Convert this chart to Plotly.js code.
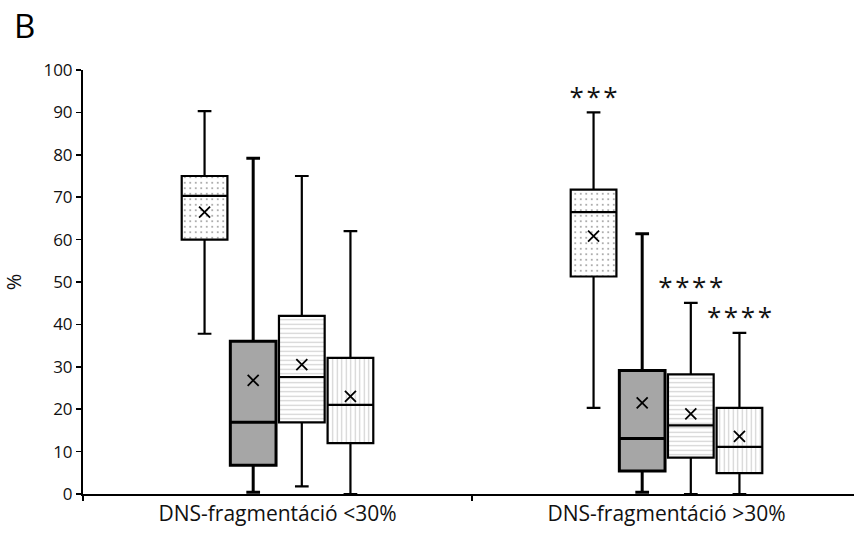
<!DOCTYPE html>
<html>
<head>
<meta charset="utf-8">
<script src="https://cdn.plot.ly/plotly-3.0.1.min.js"></script>
<style>html,body{margin:0;padding:0;background:#fff;}</style>
</head>
<body>
<div id="chart" style="width:854px;height:533px;"></div>
<script>
// Categories (x-axis)
const categories = ['DNS-fragmentáció <30%', 'DNS-fragmentáció >30%'];

// Series 1 (dotted)
const s1_low = [37.8, 20.3];
const s1_q1 = [60, 51.3];
const s1_med = [70.3, 66.5];
const s1_q3 = [75, 71.8];
const s1_high = [90.3, 90];
const s1_mean = [66.5, 60.8];
const s1_sig = ['', '***'];

// Series 2 (grey)
const s2_low = [0.4, 0.4];
const s2_q1 = [6.8, 5.4];
const s2_med = [16.9, 13.1];
const s2_q3 = [36, 29.1];
const s2_high = [79.2, 61.4];
const s2_mean = [26.8, 21.5];
const s2_sig = ['', ''];

// Series 3 (horizontal lines)
const s3_low = [1.8, 0];
const s3_q1 = [16.9, 8.6];
const s3_med = [27.6, 16.2];
const s3_q3 = [42, 28.2];
const s3_high = [75, 45.1];
const s3_mean = [30.5, 18.9];
const s3_sig = ['', '****'];

// Series 4 (vertical lines)
const s4_low = [0, 0];
const s4_q1 = [12, 4.9];
const s4_med = [21, 11.1];
const s4_q3 = [32.1, 20.3];
const s4_high = [62, 38];
const s4_mean = [23, 13.6];
const s4_sig = ['', '****'];

const series = [
  {name: 'A', low: s1_low, q1: s1_q1, med: s1_med, q3: s1_q3, high: s1_high, mean: s1_mean, sig: s1_sig,
   bg: '#ffffff', shape: '.', fg: '#333333', size: 5.5, sol: 0.1, lw: 2.2},
  {name: 'B', low: s2_low, q1: s2_q1, med: s2_med, q3: s2_q3, high: s2_high, mean: s2_mean, sig: s2_sig,
   bg: '#a6a6a6', shape: '', fg: '#a6a6a6', size: 5, sol: 0.2, lw: 3},
  {name: 'C', low: s3_low, q1: s3_q1, med: s3_med, q3: s3_q3, high: s3_high, mean: s3_mean, sig: s3_sig,
   bg: '#ffffff', shape: '-', fg: '#a0a0a0', size: 4.5, sol: 0.25, lw: 2.2},
  {name: 'D', low: s4_low, q1: s4_q1, med: s4_med, q3: s4_q3, high: s4_high, mean: s4_mean, sig: s4_sig,
   bg: '#ffffff', shape: '|', fg: '#a0a0a0', size: 4.5, sol: 0.25, lw: 2.2}
];

const traces = [];
// Patterned fills (bars spanning q1..q3)
series.forEach((s, i) => {
  traces.push({
    type: 'bar', x: categories, base: s.q1, y: s.q3.map((v, k) => v - s.q1[k]),
    offsetgroup: String(i), name: s.name, showlegend: false, hoverinfo: 'skip',
    marker: {color: s.bg, line: {width: 0},
      pattern: {shape: s.shape, bgcolor: s.bg, fgcolor: s.fg, size: s.size, solidity: s.sol, fillmode: 'overlay'}}
  });
});
// Box outlines, medians, whiskers
series.forEach((s, i) => {
  traces.push({
    type: 'box', x: categories, q1: s.q1, median: s.med, q3: s.q3,
    lowerfence: s.low, upperfence: s.high, offsetgroup: String(i), name: s.name,
    showlegend: false, boxpoints: false, whiskerwidth: 0.3,
    fillcolor: 'rgba(0,0,0,0)', line: {color: '#000000', width: s.lw}
  });
});
// Means (×)
series.forEach((s, i) => {
  traces.push({
    type: 'scatter', mode: 'markers', x: categories, y: s.mean, offsetgroup: String(i),
    name: s.name, showlegend: false,
    marker: {symbol: 'x-thin', size: 11, color: '#000', line: {color: '#000', width: 1.8}}
  });
});
// Significance stars
series.forEach((s, i) => {
  traces.push({
    type: 'scatter', mode: 'text', x: categories, y: s.high, offsetgroup: String(i),
    text: s.sig.map(t => t.split('').join('\u200A')), textposition: 'top center',
    textfont: {family: 'Open Sans', size: 26, color: '#111'},
    name: s.name, showlegend: false, hoverinfo: 'skip'
  });
});

const layout = {
  width: 854, height: 533,
  margin: {l: 83, r: 0, t: 70, b: 39},
  paper_bgcolor: '#ffffff', plot_bgcolor: '#ffffff',
  showlegend: false,
  barmode: 'group', bargap: 0.5, bargroupgap: 0.06,
  boxmode: 'group', boxgap: 0.5, boxgroupgap: 0.06,
  scattermode: 'group', scattergap: 0.5,
  font: {family: 'Open Sans', color: '#111'},
  xaxis: {
    type: 'category', range: [-0.5, 1.482], tickson: 'boundaries',
    ticks: 'outside', ticklen: 5, tickwidth: 2, tickcolor: '#000',
    showline: true, linecolor: '#000', linewidth: 2, showgrid: false, zeroline: false,
    tickfont: {family: 'Open Sans', size: 21, color: '#111'}
  },
  yaxis: {
    range: [0, 100], dtick: 10, tick0: 0,
    ticks: 'outside', ticklen: 5, tickwidth: 1.5, tickcolor: '#000',
    showline: true, linecolor: '#000', linewidth: 2, showgrid: false, zeroline: false,
    tickfont: {family: 'Open Sans', size: 17, color: '#111'},
    title: {text: '%', font: {family: 'Open Sans', size: 20, color: '#111'}, standoff: 18}
  },
  annotations: [
    {text: 'B', xref: 'paper', yref: 'paper', x: -0.092, y: 1.163, xanchor: 'left', yanchor: 'top',
     showarrow: false, font: {family: 'Open Sans', size: 33, color: '#000'}}
  ]
};

Plotly.newPlot('chart', traces, layout, {displayModeBar: false, staticPlot: true});
</script>
</body>
</html>
